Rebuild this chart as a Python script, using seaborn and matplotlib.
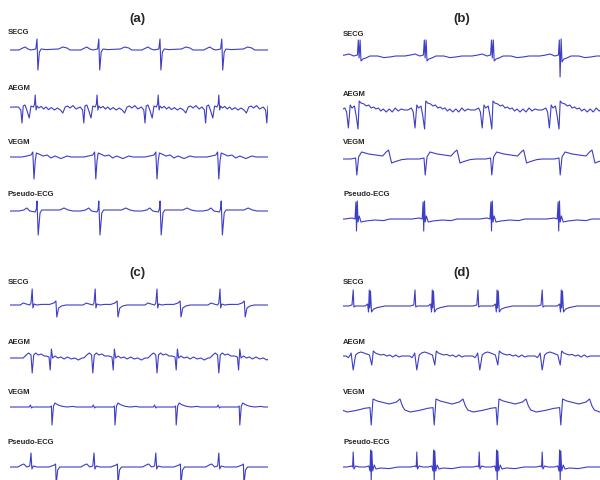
import numpy as np
import pandas as pd
import matplotlib
matplotlib.use('Agg')
import matplotlib.pyplot as plt
import seaborn as sns

sns.set_style('white')
plt.rcParams['font.family'] = ['Liberation Sans', 'DejaVu Sans']

# ---- data: beat times (s) and beat shapes (dt s, mV) ----
# panel (a)
secg_a_beats = [0.45, 1.48, 2.50, 3.53]
secg_a_shape = [(-0.30, 0.0), (-0.25, 0.08), (-0.20, 0.15), (-0.15, 0.05), (-0.10, 0.0),
                (-0.02, 0.05), (0.0, 0.55), (0.015, -1.0), (0.04, -0.1), (0.07, 0.05),
                (0.15, 0.02), (0.36, 0.05), (0.43, 0.15), (0.50, 0.1), (0.55, 0.0)]
aegm_a_beats = [0.42, 1.45, 2.47, 3.48, 4.50]
aegm_a_shape = [(-0.28, 0.05), (-0.24, -0.1), (-0.22, -0.75), (-0.20, 0.1), (-0.17, 0.15),
                (-0.14, -0.1), (-0.10, -0.5), (-0.07, 0.1), (-0.03, 0.05), (-0.01, 0.2),
                (0.0, 0.65), (0.015, -0.1), (0.03, 0.1), (0.06, 0.0), (0.10, 0.08),
                (0.14, -0.05), (0.18, 0.05), (0.22, -0.08), (0.27, 0.02), (0.32, -0.1),
                (0.37, 0.0), (0.42, -0.1), (0.46, -0.25), (0.50, 0.05), (0.54, 0.1),
                (0.58, 0.0), (0.63, 0.12), (0.68, -0.05)]
vegm_a_beats = [0.40, 1.43, 2.45, 3.48]
vegm_a_shape = [(-0.20, 0.0), (-0.12, 0.05), (-0.05, 0.1), (-0.02, 0.25), (0.0, -1.1),
                (0.02, -0.2), (0.04, 0.2), (0.08, 0.15), (0.15, 0.05), (0.22, 0.1),
                (0.28, -0.05), (0.35, 0.05), (0.45, -0.08), (0.55, 0.05), (0.62, 0.0)]
pecg_a_beats = [0.45, 1.48, 2.50, 3.52]
pecg_a_shape = [(-0.30, 0.0), (-0.22, 0.05), (-0.17, 0.15), (-0.12, 0.0), (-0.03, -0.05),
                (-0.01, 0.1), (0.0, 0.5), (0.02, -1.2), (0.05, -0.1), (0.08, 0.05),
                (0.2, 0.05), (0.38, 0.05), (0.45, 0.15), (0.52, 0.05), (0.6, 0.0)]

# panel (b)
secg_b_beats = [0.28, 1.38, 2.50]
secg_b_shape = [(-0.35, 0.0), (-0.25, 0.05), (-0.18, 0.1), (-0.10, 0.0), (-0.04, 0.05),
                (-0.025, 0.8), (-0.012, -0.1), (0.005, 0.8), (0.02, -0.25), (0.05, -0.15),
                (0.1, -0.1), (0.17, 0.0), (0.30, 0.0), (0.40, -0.08), (0.50, -0.05), (0.6, 0.0)]
secg_b_ectopic_beats = [3.63]
secg_b_ectopic_shape = [(-0.35, 0.0), (-0.25, 0.05), (-0.18, 0.1), (-0.10, 0.0), (-0.04, 0.05),
                        (-0.025, 0.8), (-0.012, -1.05), (0.005, 0.85), (0.02, -0.3),
                        (0.05, -0.15), (0.1, -0.1), (0.17, 0.0), (0.30, 0.0), (0.40, -0.08),
                        (0.50, -0.05), (0.6, 0.0)]
aegm_b_beats = [0.17, 1.28, 2.40, 3.52, 4.63]
aegm_b_shape = [(-0.20, 0.0), (-0.14, 0.1), (-0.11, -0.1), (-0.08, -0.9), (-0.05, 0.25),
                (-0.02, 0.1), (0.02, 0.2), (0.05, -0.3), (0.08, -0.95), (0.10, 0.45),
                (0.13, 0.35), (0.18, 0.3), (0.22, 0.2), (0.26, 0.25), (0.30, 0.1),
                (0.34, 0.15), (0.38, 0.05), (0.42, 0.1), (0.46, -0.05), (0.50, 0.05),
                (0.55, -0.1), (0.60, 0.05), (0.65, -0.1), (0.70, 0.1), (0.75, -0.05),
                (0.80, 0.05), (0.85, 0.0)]
vegm_b_beats = [0.23, 1.37, 2.48, 3.62]
vegm_b_shape = [(-0.10, 0.0), (-0.02, 0.05), (0.0, -0.8), (0.03, 0.1), (0.08, 0.35),
                (0.2, 0.25), (0.43, 0.15), (0.49, 0.35), (0.53, 0.45), (0.58, -0.2),
                (0.65, -0.12), (0.75, -0.03), (0.85, 0.0)]
pecg_b_beats = [0.23, 1.35, 2.48, 3.60]
pecg_b_shape = [(-0.20, 0.0), (-0.08, 0.05), (-0.03, 0.0), (-0.015, 0.85), (-0.005, -0.6),
                (0.008, 0.9), (0.02, -0.15), (0.04, 0.15), (0.07, -0.15), (0.15, -0.1),
                (0.3, -0.05), (0.45, -0.08), (0.55, 0.0)]

# panel (c)
secg_c_a_beats = [0.37, 1.42, 2.45, 3.50]
secg_c_a_shape = [(-0.20, 0.0), (-0.15, 0.1), (-0.10, 0.05), (-0.04, 0.0), (-0.02, 0.1),
                  (0.0, 0.8), (0.012, -0.15), (0.03, 0.05), (0.08, 0.0), (0.15, 0.03)]
secg_c_v_beats = [0.78, 1.80, 2.85, 3.92]
secg_c_v_shape = [(-0.12, 0.03), (-0.05, 0.1), (-0.015, 0.2), (0.0, -0.6), (0.03, -0.15),
                  (0.08, -0.05), (0.15, 0.0)]
aegm_c_a_beats = [0.37, 1.38, 2.45, 3.48]
aegm_c_a_shape = [(-0.15, 0.0), (-0.10, 0.15), (-0.06, 0.25), (-0.02, 0.15), (0.0, -0.75),
                  (0.025, 0.15), (0.06, 0.25), (0.10, 0.15), (0.15, 0.2), (0.20, 0.1)]
aegm_c_v_beats = [0.68, 1.73, 2.78, 3.82]
aegm_c_v_shape = [(-0.08, 0.1), (-0.03, 0.05), (-0.01, -0.6), (0.01, 0.45), (0.03, 0.0),
                  (0.07, 0.1), (0.12, 0.0), (0.17, 0.05), (0.22, -0.05), (0.28, 0.05),
                  (0.34, -0.05), (0.40, 0.0), (0.46, -0.1), (0.52, 0.0)]
vegm_c_beats = [0.70, 1.75, 2.77, 3.83]
vegm_c_shape = [(-0.38, 0.0), (-0.36, 0.1), (-0.34, -0.05), (-0.32, 0.0), (-0.03, 0.0),
                (-0.01, 0.05), (0.0, -0.9), (0.025, 0.05), (0.05, 0.2), (0.09, 0.12),
                (0.16, 0.04), (0.25, 0.0), (0.35, 0.03), (0.4, 0.0)]
pecg_c_a_beats = [0.35, 1.40, 2.43, 3.48]
pecg_c_a_shape = [(-0.22, 0.0), (-0.16, 0.1), (-0.12, 0.15), (-0.07, 0.0), (-0.02, 0.05),
                  (0.0, 0.7), (0.015, -0.1), (0.04, 0.05), (0.1, 0.0)]
pecg_c_v_beats = [0.77, 1.80, 2.85, 3.90]
pecg_c_v_shape = [(-0.12, 0.0), (-0.03, 0.1), (-0.01, 0.15), (0.0, -0.85), (0.025, -0.15),
                  (0.06, 0.0), (0.2, 0.0)]

# panel (d)
secg_d_a_beats = [0.17, 1.20, 2.25, 3.32]
secg_d_a_shape = [(-0.08, 0.0), (-0.02, 0.05), (0.0, 0.8), (0.012, -0.05), (0.04, 0.0)]
secg_d_v_beats = [0.45, 1.50, 2.58, 3.65]
secg_d_v_shape = [(-0.08, 0.0), (-0.04, 0.1), (-0.025, -0.3), (-0.012, 0.8), (-0.004, -0.1),
                  (0.008, 0.75), (0.025, -0.3), (0.06, -0.15), (0.12, -0.08), (0.25, 0.0)]
aegm_d_a_beats = [0.17, 1.23, 2.28, 3.32]
aegm_d_a_shape = [(-0.12, 0.0), (-0.08, -0.08), (-0.05, 0.05), (-0.035, 0.15), (0.0, -0.7),
                  (0.04, 0.05), (0.08, 0.15), (0.13, 0.2), (0.18, 0.15), (0.22, 0.1)]
aegm_d_v_beats = [0.48, 1.53, 2.58, 3.62]
aegm_d_v_shape = [(-0.08, 0.1), (-0.04, 0.05), (0.0, -0.45), (0.025, 0.25), (0.06, 0.15),
                  (0.1, 0.1), (0.15, 0.05), (0.2, 0.08), (0.25, 0.0), (0.3, 0.05),
                  (0.35, -0.05), (0.4, 0.05), (0.45, -0.05), (0.5, 0.0)]
vegm_d_beats = [-0.58, 0.47, 1.52, 2.57, 3.63, 4.68]
vegm_d_shape = [(-0.12, -0.02), (-0.02, 0.02), (0.0, -0.85), (0.03, 0.45), (0.1, 0.35),
                (0.3, 0.2), (0.42, 0.3), (0.48, 0.45), (0.52, 0.1), (0.56, -0.1),
                (0.65, -0.2), (0.8, -0.12), (0.9, -0.05)]
pecg_d_a_beats = [0.17, 1.23, 2.27, 3.32]
pecg_d_a_shape = [(-0.10, 0.0), (-0.03, 0.05), (-0.01, 0.0), (0.0, 0.75), (0.012, -0.1),
                  (0.04, 0.05), (0.1, 0.0)]
pecg_d_v_beats = [0.47, 1.52, 2.57, 3.62]
pecg_d_v_shape = [(-0.1, 0.0), (-0.04, 0.05), (-0.02, -0.2), (-0.01, 0.85), (0.0, -0.7),
                  (0.01, 0.8), (0.025, -0.2), (0.05, 0.1), (0.08, -0.1), (0.15, -0.05),
                  (0.3, -0.08), (0.45, 0.0)]

panel_titles = ['(a)', '(b)', '(c)', '(d)']
trace_names = ['SECG', 'AEGM', 'VEGM', 'Pseudo-ECG']


def build(*parts):
    # put each beat shape at its beat times on a flat baseline
    pts = [(-1.0, 0.0), (6.0, 0.0)]
    for beats, shape in parts:
        for b in beats:
            pts += [(b + dt, v) for dt, v in shape]
    pts.sort()
    return pd.DataFrame(pts, columns=['t', 'mV'])


signals = {
    'a': [build((secg_a_beats, secg_a_shape)),
          build((aegm_a_beats, aegm_a_shape)),
          build((vegm_a_beats, vegm_a_shape)),
          build((pecg_a_beats, pecg_a_shape))],
    'b': [build((secg_b_beats, secg_b_shape), (secg_b_ectopic_beats, secg_b_ectopic_shape)),
          build((aegm_b_beats, aegm_b_shape)),
          build((vegm_b_beats, vegm_b_shape)),
          build((pecg_b_beats, pecg_b_shape))],
    'c': [build((secg_c_a_beats, secg_c_a_shape), (secg_c_v_beats, secg_c_v_shape)),
          build((aegm_c_a_beats, aegm_c_a_shape), (aegm_c_v_beats, aegm_c_v_shape)),
          build((vegm_c_beats, vegm_c_shape)),
          build((pecg_c_a_beats, pecg_c_a_shape), (pecg_c_v_beats, pecg_c_v_shape))],
    'd': [build((secg_d_a_beats, secg_d_a_shape), (secg_d_v_beats, secg_d_v_shape)),
          build((aegm_d_a_beats, aegm_d_a_shape), (aegm_d_v_beats, aegm_d_v_shape)),
          build((vegm_d_beats, vegm_d_shape)),
          build((pecg_d_a_beats, pecg_d_a_shape), (pecg_d_v_beats, pecg_d_v_shape))],
}

# ---- layout (pixels of the 600x480 picture) ----
W, H = 600, 480
PX_PER_S = 60.0
PX_PER_MV = 20.0
line_col = '#3d3dc6'

layout = {
    # x0, x1, title (x, y), label x, label ys, baselines
    'a': (10, 268, (137, 19), 8, [33, 89, 143, 195], [50, 108, 157, 211]),
    'b': (343, 600, (462, 19), 343, [34, 94, 143, 194], [56, 110, 159, 219]),
    'c': (10, 268, (137, 273), 8, [283, 342, 392, 442], [305, 358, 407, 467]),
    'd': (343, 600, (462, 273), 343, [283, 343, 392, 442], [306, 356, 408, 467]),
}

fig = plt.figure(figsize=(6, 4.8), dpi=100)
fig.patch.set_facecolor('white')

for key, title in zip('abcd', panel_titles):
    x0, x1, (tx, ty), lx, label_ys, bases = layout[key]
    fig.text(tx / W, 1 - ty / H, title, ha='center', va='center',
             fontsize=9.5, fontweight='bold')
    for name, ly, yb, df in zip(trace_names, label_ys, bases, signals[key]):
        fig.text(lx / W, 1 - ly / H, name, ha='left', va='center',
                 fontsize=5.5, fontweight='bold')
        half = 40
        ax = fig.add_axes([x0 / W, 1 - (yb + half) / H, (x1 - x0) / W, 2 * half / H])
        sns.lineplot(data=df, x='t', y='mV', ax=ax, color=line_col,
                     linewidth=0.8, estimator=None)
        ax.set_xlim(0, (x1 - x0) / PX_PER_S)
        ax.set_ylim(-half / PX_PER_MV, half / PX_PER_MV)
        ax.axis('off')

fig.savefig('out.png', dpi=100)
